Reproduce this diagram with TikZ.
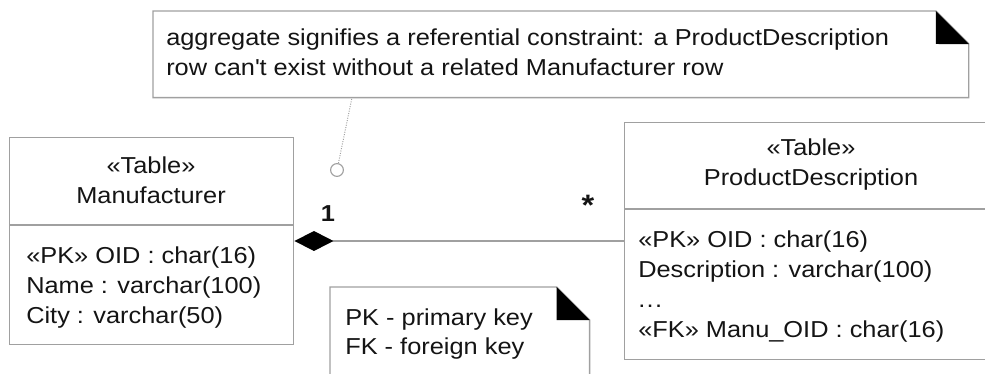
\documentclass[tikz,border=0pt]{standalone}
\usepackage{fontspec}
\setmainfont[FakeStretch=1.1]{Liberation Sans}
\usetikzlibrary{arrows.meta,positioning,calc}
\definecolor{umlgray}{HTML}{A0A0A0}
\definecolor{umltext}{HTML}{141414}

\begin{document}
\begin{tikzpicture}[x=0.025cm,y=-0.025cm,text=umltext,
  font=\fontsize{16.4}{21.3}\selectfont,
  tbl/.style={draw=umlgray, line width=1pt, inner sep=0pt, anchor=north west},
  head/.style={align=center, inner sep=0pt},
  attr/.style={anchor=base west, inner sep=0pt},
  notebox/.style={draw=umlgray, line width=1pt, fill=white}]
\path[use as bounding box, clip] (0,0) rectangle (985,374);

% tables
\node[tbl, minimum width=7.1cm, minimum height=5.175cm] (manu) at (9,137) {};
\draw[umlgray, line width=1pt] (manu.west |- 0,225) -- (manu.east |- 0,225);
\node[head] (manuhead) at (151,180) {«Table»\\Manufacturer};
\foreach \t [count=\i] in {«PK» OID : char(16), Name : varchar(100), City : varchar(50)}
  \node[attr] (mattr\i) at (26,233+30*\i) {\t};

\node[tbl, minimum width=9.35cm, minimum height=5.925cm] (pd) at (624,122) {};
\draw[umlgray, line width=1pt] (pd.west |- 0,209) -- (pd.east |- 0,209);
\node[head] (pdhead) at (811,165) {«Table»\\ProductDescription};
\foreach \t [count=\i] in {«PK» OID : char(16), Description : varchar(100), {.\kern1pt.\kern1pt.}, «FK» Manu\_OID : char(16)}
  \node[attr] (pattr\i) at (638,217+30*\i) {\t};

% aggregation
\coordinate (agg) at (manu.east |- 0,241);
\draw[umlgray, line width=1pt, {Diamond[length=27.7pt,width=14.2pt,black]}-] (agg) -- (pd.west |- agg);
\node[font=\fontsize{16.4}{20}\bfseries] (mult1) at (328,214) {1};
\node[font=\fontsize{21}{24}\bfseries] (multn) at (588,205) {*};

% notes
\node[minimum width=20.375cm, minimum height=2.15cm, anchor=north west, inner sep=0pt] (topnote) at (153,11) {};
\draw[notebox] (topnote.south west) -- (topnote.north west) -- ([xshift=-0.825cm]topnote.north east)
  -- ([yshift=-0.825cm]topnote.north east) -- (topnote.south east) -- cycle;
\fill ([xshift=-0.825cm]topnote.north east) -- ++(0,33) -- ([yshift=-0.825cm]topnote.north east) -- cycle;
\node[attr] (note1) at (166,46) {aggregate signifies a referential constraint: a ProductDescription};
\node[attr] (note2) at (166,75) {row can\textquotesingle t exist without a related Manufacturer row};

\node[circle, draw=umlgray, fill=white, line width=0.8pt, minimum size=0.32cm, inner sep=0pt] (anchorpt) at (337,170) {};
\draw[umlgray, densely dotted, line width=0.7pt] (anchorpt) -- (352,0 |- topnote.south);

\node[minimum width=6.475cm, minimum height=3cm, anchor=north west, inner sep=0pt] (legend) at (330,287) {};
\draw[notebox] (legend.south west) -- (legend.north west) -- ([xshift=-0.825cm]legend.north east)
  -- ([yshift=-0.825cm]legend.north east) -- (legend.south east) -- cycle;
\fill ([xshift=-0.825cm]legend.north east) -- ++(0,33) -- ([yshift=-0.825cm]legend.north east) -- cycle;
\node[attr] (leg1) at (345,325) {PK - primary key};
\node[attr] (leg2) at (345,354) {FK - foreign key};
\end{tikzpicture}
\end{document}
